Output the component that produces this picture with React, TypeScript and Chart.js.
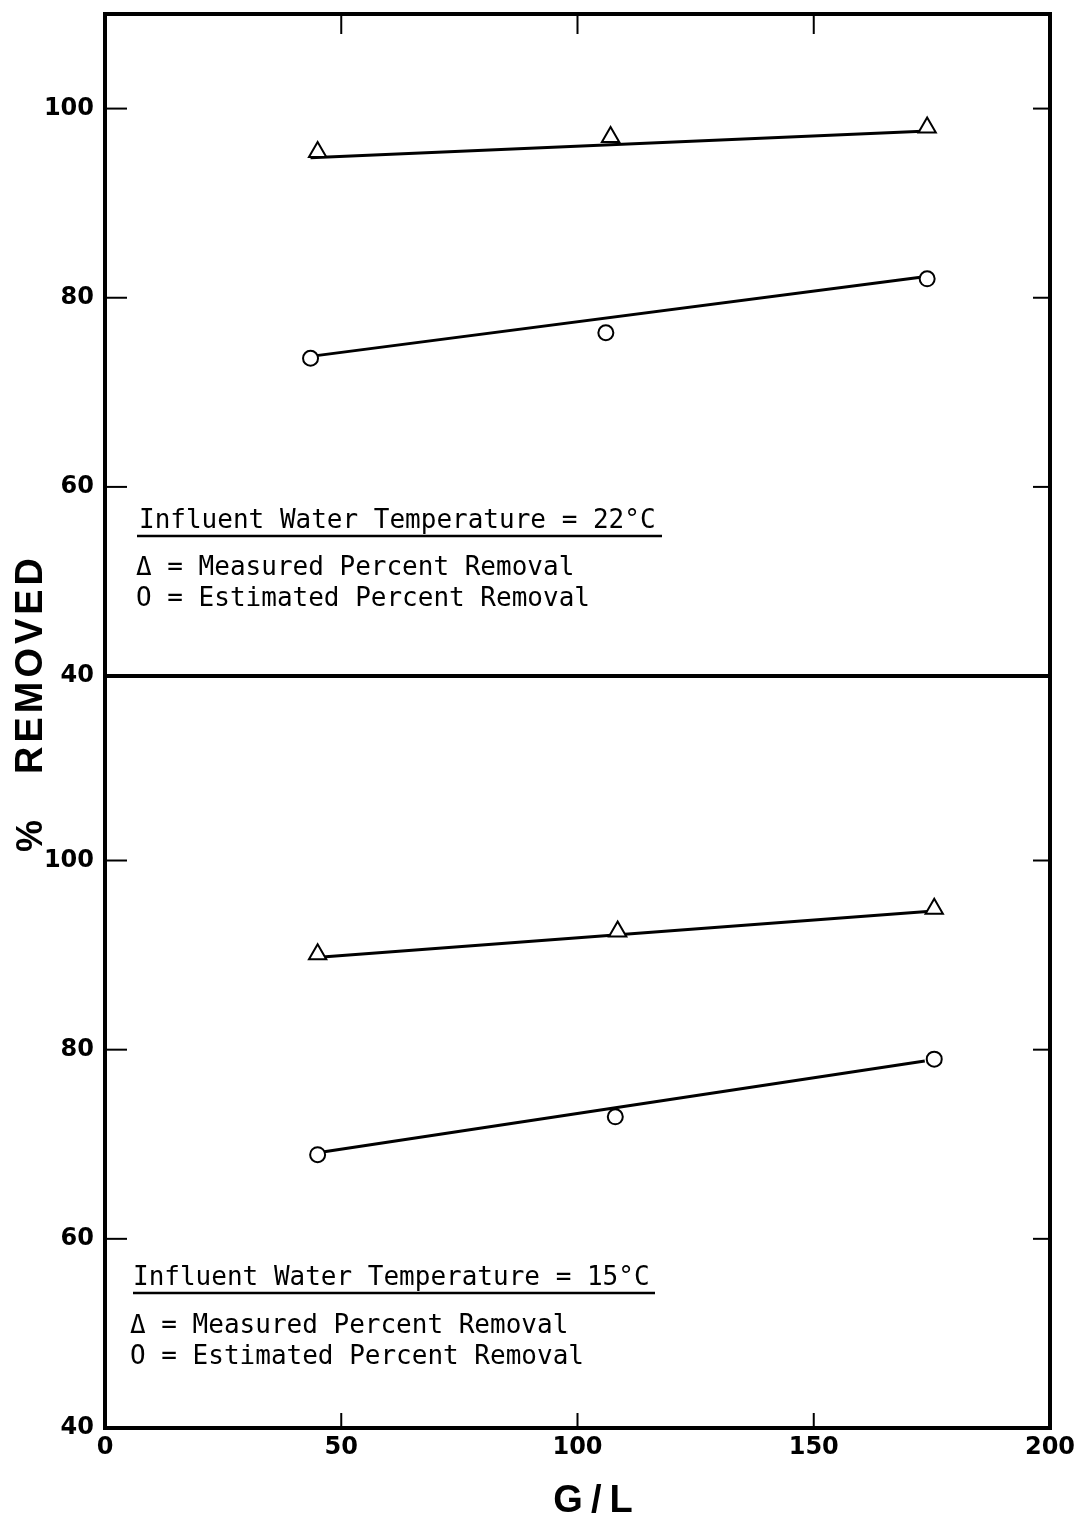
import { useEffect, useRef } from 'react';
import { Chart, registerables } from 'chart.js';

Chart.register(...registerables);

// Axis ticks
const glTicks = [0, 50, 100, 150, 200];
const pctTicks = [40, 60, 80, 100];

// Influent water temperature 22°C (upper panel)
const gl22Measured = [45, 107, 174];
const pct22Measured = [95.4, 97.0, 98.0];
const gl22Estimated = [43.5, 106, 174];
const pct22Estimated = [73.6, 76.3, 82.0];
const fit22MeasuredGL = [43.5, 173];
const fit22MeasuredPct = [94.8, 97.6];
const fit22EstimatedGL = [43.5, 173];
const fit22EstimatedPct = [73.8, 82.2];

// Influent water temperature 15°C (lower panel)
const gl15Measured = [45, 108.5, 175.5];
const pct15Measured = [90.1, 92.5, 94.9];
const gl15Estimated = [45, 108, 175.5];
const pct15Estimated = [68.9, 72.9, 79.0];
const fit15MeasuredGL = [46, 174];
const fit15MeasuredPct = [89.8, 94.6];
const fit15EstimatedGL = [45, 173.5];
const fit15EstimatedPct = [69.1, 78.8];

const panelTitles = ['Influent Water Temperature = 22°C', 'Influent Water Temperature = 15°C'];
const keyMeasured = 'Δ = Measured Percent Removal';
const keyEstimated = 'O = Estimated Percent Removal';

const pairs = (xs: number[], ys: number[]) => xs.map((x, i) => ({ x, y: ys[i] }));

const tickFont = { family: '"DejaVu Sans", sans-serif', size: 24, weight: 'bold' as const };

const markerSet = (data: { x: number; y: number }[], axis: string, style: string, radius: number) => ({
  data,
  yAxisID: axis,
  showLine: false,
  pointStyle: style,
  pointRadius: radius,
  pointBorderWidth: 2,
  pointBackgroundColor: '#fff',
  pointBorderColor: '#000',
});

const fitSet = (data: { x: number; y: number }[], axis: string) => ({
  data,
  yAxisID: axis,
  showLine: true,
  borderColor: '#000',
  borderWidth: 3,
  pointRadius: 0,
  fill: false,
});

const framePlugin = {
  id: 'frameAndNotes',
  afterDraw(chart: any) {
    const { ctx, chartArea: a, scales } = chart;
    const xs = scales.x;
    const yT = scales.yTop;
    const yB = scales.yBottom;
    const seg = (x1: number, y1: number, x2: number, y2: number) => {
      ctx.beginPath();
      ctx.moveTo(x1, y1);
      ctx.lineTo(x2, y2);
      ctx.stroke();
    };
    ctx.save();
    ctx.strokeStyle = '#000';
    ctx.fillStyle = '#000';
    ctx.lineCap = 'butt';

    // inward tick marks
    ctx.lineWidth = 2;
    glTicks.filter((v) => v > glTicks[0] && v < glTicks[glTicks.length - 1]).forEach((v) => {
      const px = xs.getPixelForValue(v);
      seg(px, a.top, px, a.top + 20);
      seg(px, a.bottom, px, a.bottom - 15);
    });
    [yT, yB].forEach((ys: any) => {
      pctTicks.filter((v) => v > pctTicks[0]).forEach((v) => {
        const py = ys.getPixelForValue(v);
        seg(a.left, py, a.left + 22, py);
        seg(a.right, py, a.right - 17, py);
      });
    });

    // frame and panel divider
    ctx.lineWidth = 4;
    ctx.strokeRect(a.left, a.top, a.right - a.left, a.bottom - a.top);
    seg(a.left, yT.bottom, a.right, yT.bottom);

    // panel notes
    ctx.font = '26px "DejaVu Sans Mono", monospace';
    ctx.textAlign = 'left';
    ctx.textBaseline = 'alphabetic';
    const notes = [
      { bottom: yT.bottom, dx: 34, b: [148, 101, 70], u: 140, uw: [32, 557] },
      { bottom: yB.bottom, dx: 28, b: [143, 95, 64], u: 135, uw: [28, 550] },
    ];
    notes.forEach((n, i) => {
      const x0 = a.left + n.dx;
      ctx.fillText(panelTitles[i], x0, n.bottom - n.b[0]);
      ctx.lineWidth = 2.5;
      seg(a.left + n.uw[0], n.bottom - n.u, a.left + n.uw[1], n.bottom - n.u);
      ctx.fillText(keyMeasured, x0 - 3, n.bottom - n.b[1]);
      ctx.fillText(keyEstimated, x0 - 3, n.bottom - n.b[2]);
    });

    // axis titles
    ctx.font = 'bold 38px "Liberation Sans", Arial, sans-serif';
    ctx.textAlign = 'center';
    (ctx as any).letterSpacing = '4px';
    ctx.save();
    ctx.translate(42, 664);
    ctx.rotate(-Math.PI / 2);
    ctx.fillText('REMOVED', 0, 0);
    ctx.restore();
    ctx.save();
    ctx.translate(42, 836);
    ctx.rotate(-Math.PI / 2);
    (ctx as any).letterSpacing = '0px';
    ctx.font = 'bold 36px "Liberation Sans", Arial, sans-serif';
    ctx.fillText('%', 0, 0);
    ctx.restore();
    (ctx as any).letterSpacing = '8px';
    ctx.font = 'bold 38px "Liberation Sans", Arial, sans-serif';
    ctx.fillText('G/L', 597, 1512);
    ctx.restore();
  },
};

export default function App() {
  const canvasRef = useRef<HTMLCanvasElement | null>(null);

  useEffect(() => {
    if (!canvasRef.current) return;
    const pctAxis = (min: number, max: number, weight: number) => ({
      type: 'linear' as const,
      position: 'left' as const,
      stack: 'panels',
      stackWeight: weight,
      min,
      max,
      grid: { display: false, drawTicks: false },
      border: { display: false },
      ticks: { font: tickFont, color: '#000', padding: 11 },
      afterBuildTicks: (s: any) => {
        s.ticks = pctTicks.map((v) => ({ value: v }));
      },
      afterFit: (s: any) => {
        s.width = 105;
        s.paddingTop = 0;
        s.paddingBottom = 0;
      },
    });

    const chart = new Chart(canvasRef.current, {
      type: 'scatter',
      data: {
        datasets: [
          markerSet(pairs(gl22Measured, pct22Measured), 'yTop', 'triangle', 10),
          markerSet(pairs(gl22Estimated, pct22Estimated), 'yTop', 'circle', 7.5),
          markerSet(pairs(gl15Measured, pct15Measured), 'yBottom', 'triangle', 10),
          markerSet(pairs(gl15Estimated, pct15Estimated), 'yBottom', 'circle', 7.5),
          fitSet(pairs(fit22MeasuredGL, fit22MeasuredPct), 'yTop'),
          fitSet(pairs(fit22EstimatedGL, fit22EstimatedPct), 'yTop'),
          fitSet(pairs(fit15MeasuredGL, fit15MeasuredPct), 'yBottom'),
          fitSet(pairs(fit15EstimatedGL, fit15EstimatedPct), 'yBottom'),
        ] as any,
      },
      options: {
        responsive: false,
        animation: false,
        devicePixelRatio: 1,
        layout: { padding: { top: 14, right: 31, left: 0, bottom: 0 } },
        plugins: { legend: { display: false }, tooltip: { enabled: false } },
        scales: {
          x: {
            type: 'linear',
            position: 'bottom',
            min: 0,
            max: 200,
            grid: { display: false, drawTicks: false },
            border: { display: false },
            ticks: { font: tickFont, color: '#000', padding: 5, maxRotation: 0 },
            afterBuildTicks: (s: any) => {
              s.ticks = glTicks.map((v) => ({ value: v }));
            },
            afterFit: (s: any) => {
              s.height = 88;
              s.paddingLeft = 0;
              s.paddingRight = 0;
            },
          },
          // left-hand stacked axes are laid out in reverse order of declaration
          yBottom: pctAxis(40, 119.5, 79.5),
          yTop: pctAxis(40, 110, 70),
        } as any,
      },
      plugins: [framePlugin],
    });
    return () => chart.destroy();
  }, []);

  return (
    <div style={{ position: 'absolute', left: 0, top: 0, width: 1081, height: 1516, background: '#fff' }}>
      <canvas ref={canvasRef} width={1081} height={1516} style={{ display: 'block' }} />
    </div>
  );
}
